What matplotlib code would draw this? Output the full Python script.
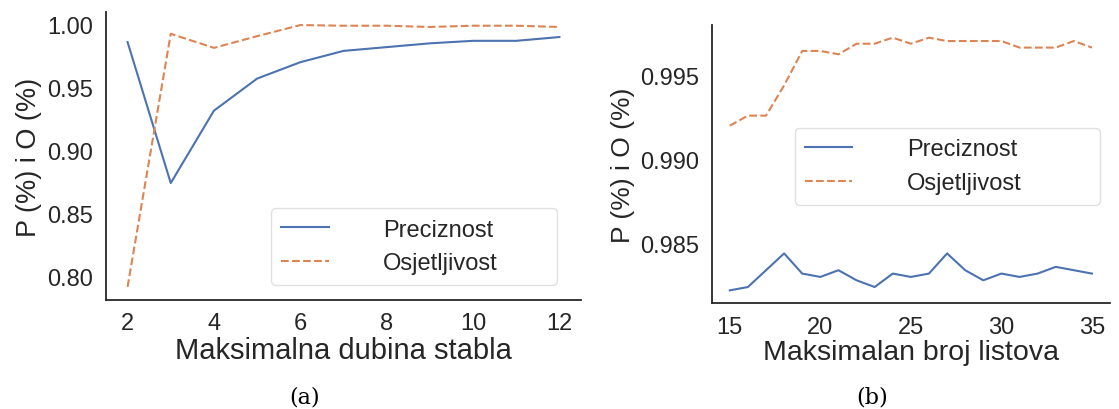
import matplotlib
matplotlib.use("Agg")
import matplotlib.pyplot as plt

# podaci (a): maksimalna dubina stabla
dubina = [2, 3, 4, 5, 6, 7, 8, 9, 10, 11, 12]
prec_a = [0.986, 0.874, 0.9315, 0.957, 0.970, 0.979, 0.982, 0.985, 0.987, 0.987, 0.990]
osj_a = [0.7915, 0.9926, 0.9814, 0.9907, 0.9995, 0.999, 0.999, 0.998, 0.999, 0.999, 0.998]

# podaci (b): maksimalan broj listova
listovi = list(range(15, 36))
prec_b = [0.9822, 0.9824, 0.9834, 0.9844, 0.9832, 0.9830, 0.9834, 0.9828, 0.9824, 0.9832, 0.9830,
          0.9832, 0.9844, 0.9834, 0.9828, 0.9832, 0.9830, 0.9832, 0.9836, 0.9834, 0.9832]
osj_b = [0.9920, 0.9926, 0.9926, 0.9944, 0.99645, 0.99645, 0.99625, 0.99688, 0.99688, 0.99724, 0.99688,
         0.99724, 0.99704, 0.99704, 0.99704, 0.99704, 0.99665, 0.99665, 0.99665, 0.99704, 0.99665]

plt.rcParams['font.family'] = ['Liberation Sans', 'DejaVu Sans']
plava = '#4C72B0'
narandzasta = '#DD8452'
tamna = '#262626'

fig = plt.figure(figsize=(11.19, 4.10), dpi=100)
ax1 = fig.add_axes([0.0947, 0.2659, 0.4245, 0.7024])
ax2 = fig.add_axes([0.636, 0.2585, 0.356, 0.678])


def stil(ax, tick_size):
    for s in ['top', 'right']:
        ax.spines[s].set_visible(False)
    for s in ['left', 'bottom']:
        ax.spines[s].set_color(tamna)
        ax.spines[s].set_linewidth(1.3)
    ax.tick_params(length=0, labelsize=tick_size, colors=tamna, pad=9)


ax1.plot(dubina, prec_a, color=plava, lw=1.5, label='Preciznost')
ax1.plot(dubina, osj_a, color=narandzasta, lw=1.5, ls='--', label='Osjetljivost')
stil(ax1, 17)
ax1.set_xticks([2, 4, 6, 8, 10, 12])
ax1.set_yticks([0.80, 0.85, 0.90, 0.95, 1.00])
ax1.set_yticklabels(['0.80', '0.85', '0.90', '0.95', '1.00'])
ax1.set_xlabel('Maksimalna dubina stabla', fontsize=21, color=tamna, labelpad=1)
ax1.set_ylabel('P (%) i O (%)', fontsize=19.5, color=tamna, labelpad=4)
ax1.legend(loc='lower left', bbox_to_anchor=(0.347, 0.052, 0.602, 0.28), mode='expand',
           borderaxespad=0, fontsize=17, handletextpad=2.3, handlelength=2.0, frameon=True,
           edgecolor='#d9d9d9', labelcolor=tamna, borderpad=0.45)

ax2.plot(listovi, prec_b, color=plava, lw=1.5, label='Preciznost')
ax2.plot(listovi, osj_b, color=narandzasta, lw=1.5, ls='--', label='Osjetljivost')
stil(ax2, 17)
ax2.set_xticks([15, 20, 25, 30, 35])
ax2.set_yticks([0.985, 0.990, 0.995])
ax2.set_yticklabels(['0.985', '0.990', '0.995'])
ax2.set_xlabel('Maksimalan broj listova', fontsize=20.5, color=tamna, labelpad=1)
ax2.set_ylabel('P (%) i O (%)', fontsize=19, color=tamna, labelpad=4)
ax2.legend(loc='lower left', bbox_to_anchor=(0.208, 0.353, 0.767, 0.28), mode='expand',
           borderaxespad=0, fontsize=17, handletextpad=2.3, handlelength=2.0, frameon=True,
           edgecolor='#d9d9d9', labelcolor=tamna, borderpad=0.45)

fig.text(305 / 1119, 1 - 398 / 410, '(a)', ha='center', va='center', fontsize=16,
         family=['DejaVu Serif'], color='black')
fig.text(872 / 1119, 1 - 398 / 410, '(b)', ha='center', va='center', fontsize=16,
         family=['DejaVu Serif'], color='black')

fig.savefig('out.png', dpi=100)
